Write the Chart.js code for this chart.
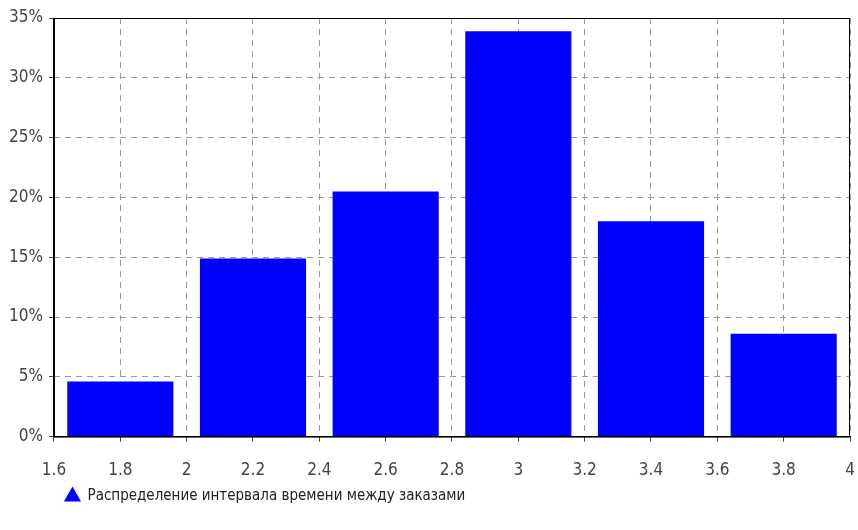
<!DOCTYPE html>
<html>
<head>
<meta charset="utf-8">
<script src="https://cdn.jsdelivr.net/npm/chart.js@4/dist/chart.umd.min.js"></script>
<style>
    html, body { margin: 0; padding: 0; background: #fff; }
    #wrap { width: 858px; height: 530px; }
</style>
</head>
<body>
<div id="wrap"><canvas id="myChart" width="858" height="530"></canvas></div>
<script>
// 区間の中心値
const centers = [1.8, 2.2, 2.6, 3.0, 3.4, 3.8];
// 割合 (%)
const shares = [4.6, 14.9, 20.5, 33.9, 18.0, 8.6];
const seriesLabel = 'Распределение интервала времени между заказами';

const FONT = "'Liberation Sans Narrow', 'DejaVu Sans Condensed', sans-serif";

/**
 * プロット領域の枠を描画し、凡例の位置を調整します。
 */
const framePlugin = {
    id: 'frame',
    afterLayout: (chart) => {
        const legend = chart.legend;
        if (legend) {
            legend.left += 52;
            legend.right += 52;
            legend.top -= 21;
            legend.bottom -= 21;
        }
    },
    afterDraw: (chart) => {
        const area = chart.chartArea;
        const ctx = chart.ctx;
        ctx.save();
        ctx.strokeStyle = '#000';
        ctx.lineWidth = 1;
        ctx.strokeRect(area.left + 0.5, area.top + 0.5, area.right - area.left - 1, area.bottom - area.top);
        ctx.restore();
    },
};

const createChart = () => {
    const points = centers.map((c, i) => ({ x: c, y: shares[i] }));

    const gridOpts = {
        color: '#9a9a9a',
        lineWidth: 1,
        offset: false,
        drawTicks: true,
        tickLength: 5,
        tickColor: '#444',
        tickBorderDash: [],
    };

    const config = {
        type: 'bar',
        data: {
            datasets: [
                {
                    label: seriesLabel,
                    data: points,
                    backgroundColor: '#0000ff',
                    borderWidth: 0,
                    categoryPercentage: 1,
                    barPercentage: 1.6,
                    pointStyle: 'triangle',
                },
            ],
        },
        options: {
            responsive: false,
            animation: false,
            layout: {
                padding: { left: 3, right: 8, top: 18, bottom: -5 },
            },
            scales: {
                x: {
                    type: 'linear',
                    offset: false,
                    min: 1.6,
                    max: 4,
                    afterFit: (axis) => {
                        axis.paddingRight = 0;
                    },
                    ticks: {
                        stepSize: 0.2,
                        color: '#444',
                        font: { family: FONT, size: 17 },
                        padding: 19,
                        callback: (v) => String(Number(v.toFixed(1))),
                    },
                    grid: Object.assign({}, gridOpts),
                    border: { color: '#000', dash: [6, 5] },
                },
                y: {
                    min: 0,
                    max: 35,
                    afterFit: (axis) => {
                        axis.paddingTop = 0;
                    },
                    ticks: {
                        stepSize: 5,
                        color: '#444',
                        font: { family: FONT, size: 17 },
                        padding: 6,
                        callback: (v) => v + '%',
                    },
                    grid: Object.assign({}, gridOpts),
                    border: { color: '#000', dash: [6, 5] },
                },
            },
            plugins: {
                legend: {
                    position: 'bottom',
                    align: 'start',
                    labels: {
                        usePointStyle: true,
                        pointStyle: 'triangle',
                        boxWidth: 18,
                        boxHeight: 14,
                        color: '#222',
                        font: { family: FONT, size: 15 },
                        padding: 10,
                    },
                },
                tooltip: { enabled: false },
            },
        },
        plugins: [framePlugin],
    };

    return new Chart(document.getElementById('myChart'), config);
};

createChart();
</script>
</body>
</html>
